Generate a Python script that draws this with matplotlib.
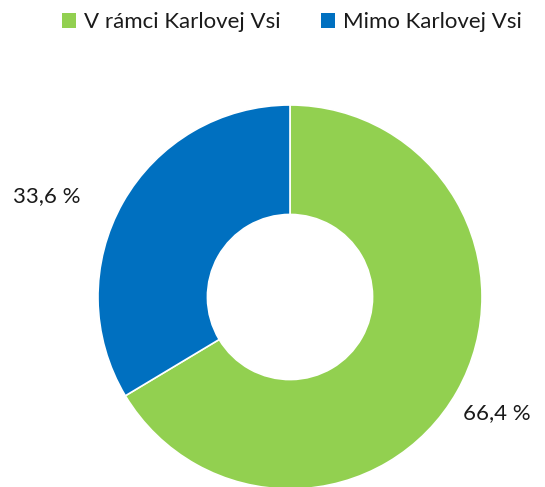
import matplotlib.pyplot as plt
import numpy as np

categories = ["V rámci Karlovej Vsi", "Mimo Karlovej Vsi"]
shares = [66.4, 33.6]
colors = ["#92D050", "#0070C0"]

plt.rcParams['font.family'] = ['Lato', 'DejaVu Sans']

fig = plt.figure(figsize=(5.45, 4.87), dpi=100)
ax = fig.add_axes([0, 0, 1, 1])

cx, cy, r = 290, 190, 192
wedges, _ = ax.pie(shares, colors=colors, startangle=90, counterclock=False,
                   center=(cx, cy), radius=r, frame=True,
                   wedgeprops=dict(width=r * 0.57, edgecolor='white', linewidth=1.2))
ax.set_xlim(0, 545)
ax.set_ylim(0, 487)
ax.set_aspect('equal')
ax.axis('off')

# value labels outside the ring (distance in radii, small angle nudge)
dist = [1.235, 1.37]
nudge = [0.2, 7.0]
for w, val, d, da in zip(wedges, shares, dist, nudge):
    ang = np.deg2rad((w.theta1 + w.theta2) / 2 + da)
    x = cx + r * d * np.cos(ang)
    y = cy + r * d * np.sin(ang)
    ax.text(x, y, f"{val:.1f} %".replace('.', ','), ha='center', va='center',
            fontsize=16, color='#1a1a1a')

leg = ax.legend(wedges, categories, loc='upper center', bbox_to_anchor=(292 / 545, 1.0),
                ncol=2, frameon=False, fontsize=16, handlelength=0.63, handleheight=0.63,
                handletextpad=0.36, columnspacing=1.85, borderaxespad=0.15)
for h in leg.legend_handles:
    h.set_edgecolor('none')
for t in leg.get_texts():
    t.set_color('#1a1a1a')

fig.savefig('out.png', dpi=100)
